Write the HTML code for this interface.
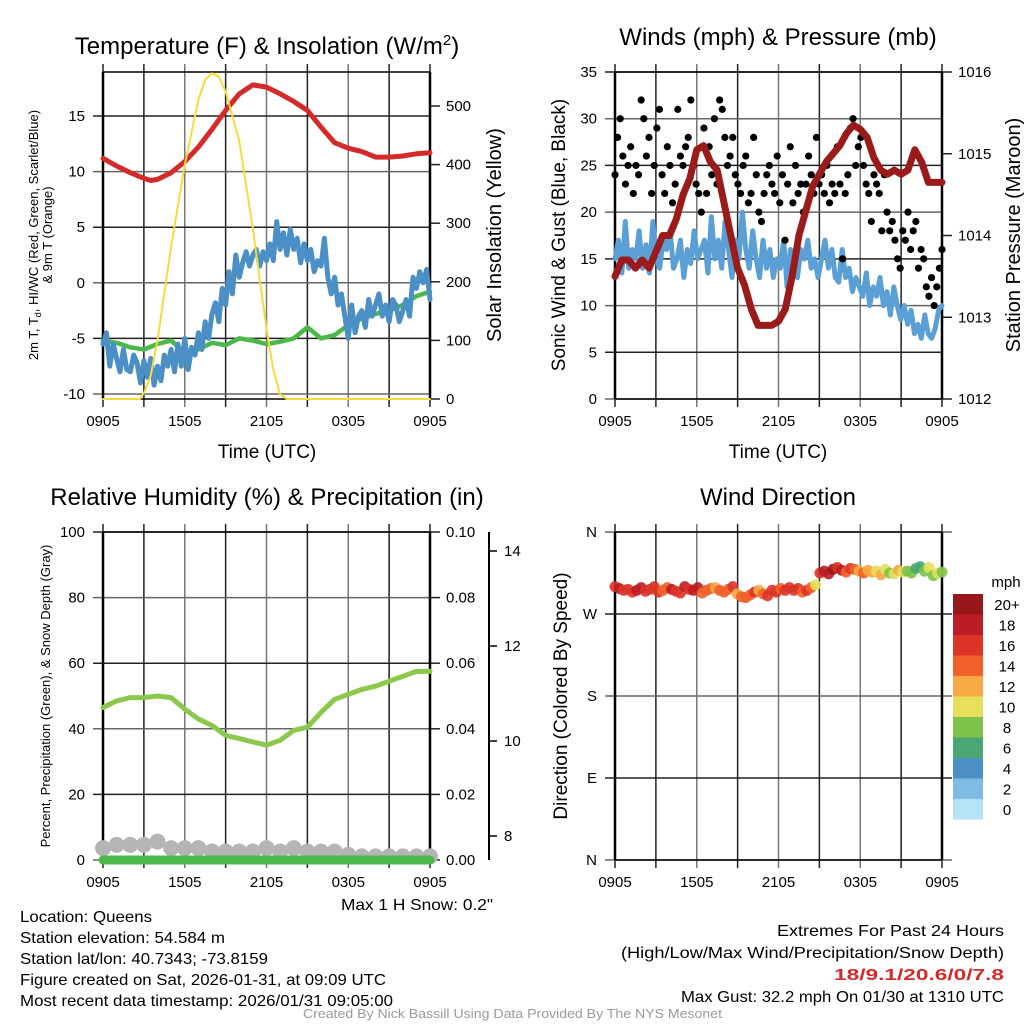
<!DOCTYPE html>
<html><head><meta charset="utf-8">
<style>
html,body{margin:0;padding:0;background:#fff;}
svg{display:block;font-family:"Liberation Sans",sans-serif;}
</style></head>
<body>
<svg id="c" width="1024" height="1024" viewBox="0 0 1024 1024" xmlns="http://www.w3.org/2000/svg">
<g id="texts">
<text x="267" y="54" font-size="24" text-anchor="middle">Temperature (F) &amp; Insolation (W/m<tspan font-size="15" dy="-9">2</tspan><tspan dy="9">)</tspan></text>
<text x="778" y="45" font-size="24" text-anchor="middle">Winds (mph) &amp; Pressure (mb)</text>
<text x="267" y="505" font-size="24" text-anchor="middle">Relative Humidity (%) &amp; Precipitation (in)</text>
<text x="778" y="505" font-size="24" text-anchor="middle">Wind Direction</text>
<text x="267" y="458" font-size="19" text-anchor="middle">Time (UTC)</text>
<text x="778" y="458" font-size="19" text-anchor="middle">Time (UTC)</text>
<g transform="translate(38,235) rotate(-90)">
<text x="0" y="0" font-size="13" text-anchor="middle">2m T, T<tspan font-size="9" dy="3">d</tspan><tspan dy="-3">, HI/WC (Red, Green, Scarlet/Blue)</tspan></text>
<text x="0" y="14" font-size="13" text-anchor="middle">&amp; 9m T (Orange)</text></g>
<text transform="translate(501,235) rotate(-90)" font-size="20" text-anchor="middle">Solar Insolation (Yellow)</text>
<text transform="translate(565,235) rotate(-90)" font-size="19" text-anchor="middle">Sonic Wind &amp; Gust (Blue, Black)</text>
<text transform="translate(1020,235) rotate(-90)" font-size="20" text-anchor="middle">Station Pressure (Maroon)</text>
<text transform="translate(50,696) rotate(-90)" font-size="13" text-anchor="middle">Percent, Precipitation (Green), &amp; Snow Depth (Gray)</text>
<text transform="translate(567,696) rotate(-90)" font-size="19" text-anchor="middle">Direction (Colored By Speed)</text>
<text x="1006" y="587" font-size="15" text-anchor="middle">mph</text>
<g font-size="16" lengthAdjust="spacingAndGlyphs">
<text x="341" y="910" textLength="152" lengthAdjust="spacingAndGlyphs">Max 1 H Snow: 0.2"</text>
<text x="20" y="922" textLength="132" lengthAdjust="spacingAndGlyphs">Location: Queens</text>
<text x="20" y="943" textLength="205" lengthAdjust="spacingAndGlyphs">Station elevation: 54.584 m</text>
<text x="20" y="964" textLength="248" lengthAdjust="spacingAndGlyphs">Station lat/lon: 40.7343; -73.8159</text>
<text x="20" y="985" textLength="366" lengthAdjust="spacingAndGlyphs">Figure created on Sat, 2026-01-31, at 09:09 UTC</text>
<text x="20" y="1006" textLength="373" lengthAdjust="spacingAndGlyphs">Most recent data timestamp: 2026/01/31 09:05:00</text>
<text x="777" y="936" textLength="227" lengthAdjust="spacingAndGlyphs">Extremes For Past 24 Hours</text>
<text x="621" y="958" textLength="383" lengthAdjust="spacingAndGlyphs">(High/Low/Max Wind/Precipitation/Snow Depth)</text>
<text x="834" y="980" textLength="170" lengthAdjust="spacingAndGlyphs" fill="#d42a2a" font-weight="bold">18/9.1/20.6/0/7.8</text>
<text x="681" y="1002" textLength="323" lengthAdjust="spacingAndGlyphs">Max Gust: 32.2 mph On 01/30 at 1310 UTC</text>
<text x="303" y="1018" textLength="419" lengthAdjust="spacingAndGlyphs" font-size="13" fill="#9a9a9a">Created By Nick Bassill Using Data Provided By The NYS Mesonet</text>
</g>
</g>
</svg>
<script>
// ---- data ----
const hourTicks=["0905","1505","2105","0305","0905"];
const tempHours=[0,1,2,3,3.5,4,5,6,7,8,9,10,11,12,13,14,15,16,17,18,19,20,21,22,23,24];
const tempVals=[11.2,10.5,9.9,9.4,9.2,9.3,9.9,10.9,12.2,13.8,15.5,17.0,17.8,17.6,17.0,16.3,15.5,14.0,12.6,12.1,11.8,11.3,11.3,11.4,11.6,11.7];
const dewHours=[0,1,2,3,4,5,6,7,8,9,10,11,12,13,14,15,16,17,18,19,20,21,22,23,24];
const dewVals=[-5.2,-5.4,-5.8,-6.0,-5.5,-5.2,-6.3,-6.0,-5.4,-5.6,-5.0,-5.2,-5.5,-5.3,-5.0,-4.0,-5.0,-4.7,-3.8,-3.2,-2.8,-2.5,-2.0,-1.2,-0.8];
const wcVals=[-5.5,-4.5,-7.5,-5.5,-6.8,-8.0,-6.0,-7.8,-8.0,-6.5,-7.2,-9.0,-7.0,-8.5,-6.8,-9.2,-7.5,-8.8,-6.5,-7.5,-6.0,-8.0,-5.5,-7.5,-5.0,-7.8,-5.8,-6.5,-4.5,-6.0,-3.5,-5.0,-2.8,-1.8,-3.5,-0.5,-2.0,1.0,-1.0,2.5,0.5,1.8,2.8,1.5,2.5,3.0,1.5,2.8,2.0,3.5,2.0,5.5,3.0,4.5,2.5,4.8,3.0,4.0,1.8,3.5,2.0,3.0,1.0,2.0,1.5,4.0,0.5,-1.0,0.5,-2.0,-1.0,-3.0,-5.0,-2.0,-4.5,-3.0,-2.5,-4.0,-1.5,-3.0,-2.0,-1.0,-3.0,-2.0,-3.5,-1.5,-2.0,-3.5,-2.5,-1.5,-3.0,0.5,-0.5,1.0,0.0,1.2,-1.5];
const solarHours=[0,2.7,3,3.5,4,5,6,7,7.5,8,8.5,9,10,11,12,12.5,13,13.5,24];
const solarVals=[0,0,10,40,100,260,400,510,545,556,550,525,440,290,120,50,8,0,0];
const windVals=[15,17,13.5,19,14,16,15,18,14,16.5,13.5,19,15,14,17,16,18,14,15,17,13,16,14.5,18,15,16,17,13.5,19.5,15,17,14,19,16,13,17,15,20,16,14,18,15,13,17,14,16,13,15,14,17,12,16,14,13,16,15,17,14,15,13,15,17,14,16,13,12.5,16,13,14,11.5,13,12,11,13.5,10,12,11,13,10,11.5,9,12,10,8.5,10,8,9.5,7,8,6.5,9,7,6.5,7.5,9.5,10];
const gustVals=[24,28,30,26,23,25,27,22,25,24,32,30,26,28,22,25,29,31,24,22,27,25,21,23,31,26,25,27,28,32,25,23,22,20,29,22,27,24,30,23,32,31,28,25,26,28,24,23,22,25,26,21,22,28,24,20,19,22,24,25,23,22,26,21,24,17,23,27,21,25,22,23,20,23,26,24,22,28,23,24,22,25,21,23,22,27,23,15,22,24,29,30,25,27,28,25,23,22,19,24,23,22,18,24,20,18,19,17,15,14,18,17,20,16,18,19,14,16,15,12,11,13,10,12,14,16];
const presHours=[0,0.5,1,1.5,2,2.5,3,3.5,4,4.5,5,5.5,6,6.5,7,7.5,8,8.5,9,9.5,10,10.5,11,11.5,12,12.5,13,13.5,14,14.5,15,15.5,16,16.5,17,17.5,18,18.5,19,19.5,20,20.5,21,21.5,22,22.5,23,23.5,24];
const presVals=[1013.5,1013.7,1013.7,1013.6,1013.7,1013.6,1013.8,1014.0,1014.0,1014.2,1014.5,1014.7,1015.05,1015.1,1014.9,1014.8,1014.4,1014.0,1013.6,1013.4,1013.1,1012.9,1012.9,1012.9,1012.95,1013.1,1013.5,1014.0,1014.3,1014.6,1014.75,1014.9,1015.0,1015.1,1015.25,1015.35,1015.3,1015.2,1014.95,1014.8,1014.75,1014.8,1014.75,1014.8,1015.05,1014.9,1014.65,1014.65,1014.65];
const rhHours=[0,1,2,3,4,5,6,7,8,9,10,11,12,13,14,15,16,17,18,19,20,21,22,23,24];
const rhVals=[46.5,48.5,49.5,49.5,50,49.5,46,43,41,38,37,36,35,36.5,39.5,40.5,45,49,50.5,52,53,54.5,56,57.5,57.5];
const snowVals=[3,4,4,4,5,3,3,3,2,2,2,2,3,2,3,2,2,2,1,0.5,0.5,0.5,0.5,0.5,0.5];
const dirVals=[300,298,296,297,294,296,299,295,297,300,294,296,299,297,295,293,300,297,296,299,293,296,298,299,296,294,297,300,292,289,288,291,294,296,292,290,296,294,298,296,299,296,298,294,296,299,302,315,317,314,319,321,318,316,320,319,317,315,318,316,317,313,319,315,314,318,316,317,315,320,322,317,321,312,315,316];
const dirSpeeds=[17,18,17,16,17,18,19,17,16,16,17,15,15,19,16,17,18,17,19,18,15,14,14,13,14,15,14,16,13,14,14,15,16,13,15,16,17,16,15,17,16,16,17,15,16,14,11,17,18,19,20,17,18,15,16,14,13,14,13,12,11,12,10,9,11,12,10,8,9,7,6,8,11,9,10,9];
const colorTicks=["20+","18","16","14","12","10","8","6","4","2","0"];
const colorFills=["#961619","#bc1c24","#dc3327","#ef6128","#f7a945","#e6e05a","#7dc24a","#4aa672","#4a8fc6","#7fbbe3","#b3e3f7"];

const NS="http://www.w3.org/2000/svg";
const svg=document.getElementById('c');
function mk(tag,attrs,parent){const e=document.createElementNS(NS,tag);for(const k in attrs)e.setAttribute(k,attrs[k]);(parent||svg).appendChild(e);return e;}
function lin(d0,d1,r0,r1){return v=>r0+(v-d0)*(r1-r0)/(d1-d0);}

function frame(name,L,R,T,B,yTicks,yFn,yLabels,rTicks,rFn,rLabels){
  const g=mk('g',{});
  
  
  const xf=lin(0,24,L,R);
  for(let h=0;h<=24;h+=3){const x=xf(h);const ln=mk('line',{x1:x,x2:x,y1:T-8,y2:B+8,stroke:(h%6==0&&h>0&&h<24)?'#777':'#222','stroke-width':1.5},g);}
  yTicks.forEach((v,i)=>{const y=yFn(v);const ln=mk('line',{x1:L-10,x2:R+(rTicks?0:10),y1:y,y2:y,stroke:(i%2)?'#222':'#666','stroke-width':1.5},g);
    const t=mk('text',{x:L-18,y:y+5,'font-size':15,'text-anchor':'end'},g);t.textContent=yLabels[i];});
  if(rTicks){rTicks.forEach((v,i)=>{const y=rFn(v);mk('line',{x1:R,x2:R+10,y1:y,y2:y,stroke:'#222','stroke-width':1.5},g);
    const t=mk('text',{x:R+16,y:y+5,'font-size':15},g);t.textContent=rLabels[i];});}
  mk('line',{x1:L,x2:L,y1:T,y2:B,stroke:'#000','stroke-width':2.5},g);
  mk('line',{x1:R,x2:R,y1:T,y2:B,stroke:'#000','stroke-width':2.5},g);
  mk('line',{x1:L,x2:R,y1:T,y2:T,stroke:'#000','stroke-width':1.5},g);
  mk('line',{x1:L,x2:R,y1:B,y2:B,stroke:'#000','stroke-width':1.5},g);
  hourTicks.forEach((s,i)=>{const t=mk('text',{x:xf(i*6),y:B+27,'font-size':15,'text-anchor':'middle'},g);t.textContent=s;});
  return xf;
}
function path(xs,ys,xf,yf,color,w,name){
  const d=xs.map((h,i)=>(i?'L':'M')+xf(h).toFixed(1)+','+yf(ys[i]).toFixed(1)).join('');
  const p=mk('path',{d:d,fill:'none',stroke:color,'stroke-width':w,'stroke-linejoin':'round','stroke-linecap':'round'});
  
  
  return p;
}
const even=(n)=>Array.from({length:n},(_,i)=>24*i/(n-1));

// Panel 1
const t1y=lin(-10,15,394,116), t1r=lin(0,500,399,106);
const x1=frame('temperature',103,430,72,399,[-10,-5,0,5,10,15],t1y,["-10","-5","0","5","10","15"],[0,100,200,300,400,500],t1r,["0","100","200","300","400","500"]);
path(tempHours,tempVals,x1,t1y,'#d42a2a',5,'temperature-line');
path(dewHours,dewVals,x1,t1y,'#4bb84a',4.5,'dewpoint-line');
path(even(wcVals.length),wcVals,x1,t1y,'#4a8fc6',5,'wind-chill-line');
path(solarHours,solarVals,x1,t1r,'#f5dc3c',2,'solar-line');

// Panel 2
const w2y=lin(0,35,399,72), p2y=lin(1012,1016,399,72);
const x2=frame('winds',615,942,72,399,[0,5,10,15,20,25,30,35],w2y,["0","5","10","15","20","25","30","35"],[1012,1013,1014,1015,1016],p2y,["1012","1013","1014","1015","1016"]);
path(even(windVals.length),windVals,x2,w2y,'#5a9fd6',5,'wind-speed-line');
const gh=even(gustVals.length);
gustVals.forEach((v,i)=>{const c=mk('circle',{cx:x2(gh[i]),cy:w2y(v),r:3.6,fill:'#000'});

});
path(presHours,presVals,x2,p2y,'#9b1b1b',7,'pressure-line');

// Panel 3
const h3y=lin(0,100,860,532), s3y=lin(8,14,836,551);
const x3=frame('humidity',103,430,532,860,[0,20,40,60,80,100],h3y,["0","20","40","60","80","100"],[0,0.02,0.04,0.06,0.08,0.1],lin(0,0.1,860,532),["0.00","0.02","0.04","0.06","0.08","0.10"]);
const sa=mk('g',{});


mk('line',{x1:489,x2:489,y1:532,y2:860,stroke:'#000','stroke-width':2},sa);
[8,10,12,14].forEach(v=>{mk('line',{x1:489,x2:497,y1:s3y(v),y2:s3y(v),stroke:'#000','stroke-width':1.5},sa);const t=mk('text',{x:504,y:s3y(v)+5,'font-size':15},sa);t.textContent=String(v);});
const sh=even(snowVals.length);
snowVals.forEach((v,i)=>{const c=mk('circle',{cx:x3(sh[i]),cy:h3y(v)-2,r:8,fill:'#b5b5b5'});

});
const pr=mk('line',{x1:x3(0),x2:x3(24),y1:h3y(0),y2:h3y(0),stroke:'#4bb84a','stroke-width':9,'stroke-linecap':'round'});


path(rhHours,rhVals,x3,h3y,'#8cc84b',5,'humidity-line');

// Panel 4
const d4y=lin(0,360,860,532);
const x4=frame('direction',615,942,532,860,[0,90,180,270,360],d4y,["N","E","S","W","N"],null,null,null);
const dh=even(dirVals.length);
function spColor(s){const idx=Math.min(10,Math.floor(s/2));return colorFills[10-idx];}
dirVals.forEach((v,i)=>{const c=mk('circle',{cx:x4(dh[i]),cy:d4y(v),r:5.5,fill:spColor(dirSpeeds[i]),'fill-opacity':0.9});

});
const cb=mk('g',{});


colorTicks.forEach((lab,i)=>{const y=594+i*20.5;mk('rect',{x:953,y:y,width:30,height:20.6,fill:colorFills[i]},cb);
const t=mk('text',{x:1007,y:y+16,'font-size':15,'text-anchor':'middle'},cb);t.textContent=lab;

});
</script>
</body></html>
